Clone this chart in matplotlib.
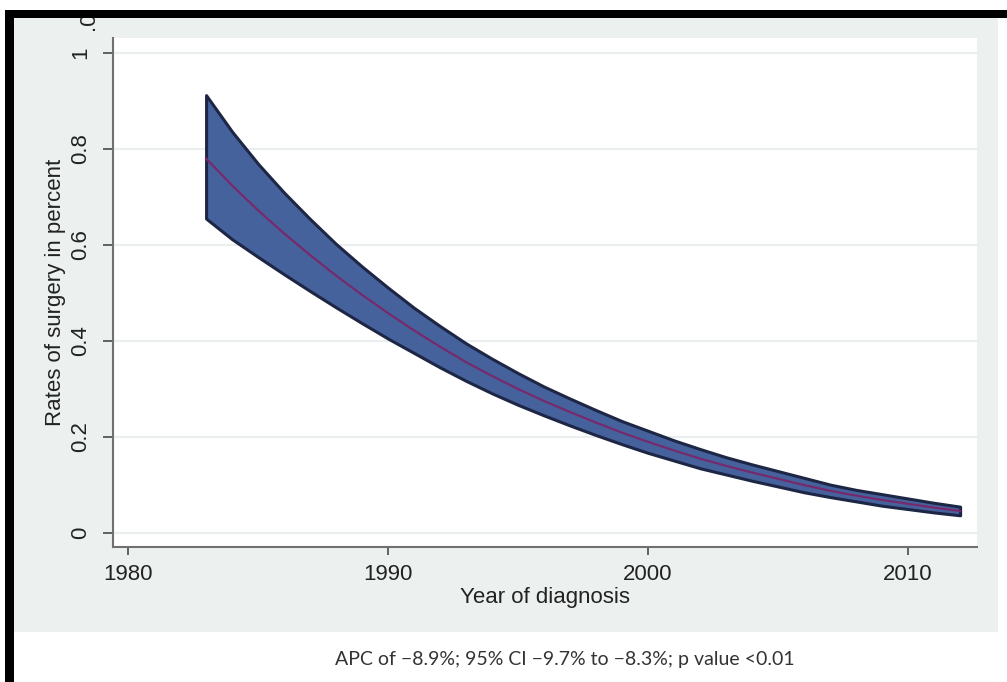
import matplotlib
matplotlib.use("Agg")
import matplotlib.pyplot as plt
from matplotlib.patches import Rectangle

# ---- data ----
years = list(range(1983, 2013))
rate_mid = [0.780, 0.724, 0.672, 0.624, 0.579, 0.536, 0.496, 0.458, 0.422, 0.388,
            0.356, 0.327, 0.300, 0.275, 0.252, 0.230, 0.209, 0.190, 0.172, 0.155,
            0.140, 0.126, 0.113, 0.100, 0.088, 0.078, 0.069, 0.061, 0.053, 0.046]
rate_upper = [0.912, 0.836, 0.769, 0.709, 0.654, 0.602, 0.555, 0.511, 0.469, 0.431,
              0.395, 0.363, 0.333, 0.305, 0.280, 0.256, 0.233, 0.213, 0.193, 0.175,
              0.158, 0.143, 0.129, 0.115, 0.101, 0.090, 0.081, 0.072, 0.063, 0.055]
rate_lower = [0.655, 0.612, 0.575, 0.539, 0.504, 0.470, 0.437, 0.405, 0.375, 0.345,
              0.317, 0.291, 0.267, 0.245, 0.224, 0.204, 0.185, 0.167, 0.151, 0.135,
              0.122, 0.109, 0.097, 0.085, 0.075, 0.066, 0.057, 0.050, 0.043, 0.037]
x_ticks = [1980, 1990, 2000, 2010]
y_ticks = [0, 0.2, 0.4, 0.6, 0.8, 1]
y_tick_labels = ["0", "0.2", "0.4", "0.6", "0.8", "1"]
x_label = "Year of diagnosis"
y_label = "Rates of surgery in percent"
caption = "APC of \u22128.9%; 95% CI \u22129.7% to \u22128.3%; p value <0.01"

W, H = 1007, 682
plt.rcParams['font.family'] = ['Liberation Sans', 'DejaVu Sans']
fig = plt.figure(figsize=(W / 100, H / 100), dpi=100)
fig.patch.set_facecolor('white')

def fx(px):
    return px / W

def fy(py):
    return 1 - py / H

# graph region background
fig.add_artist(Rectangle((fx(14), fy(632)), fx(998 - 14), (632 - 18) / H,
                         transform=fig.transFigure, facecolor='#ecf1f0',
                         edgecolor='none', zorder=-5))

left, right, top, bottom = 113, 977, 38, 547
ax = fig.add_axes([fx(left), fy(bottom), fx(right - left), (bottom - top) / H])
ax.set_facecolor('white')
ax.set_zorder(1)

ax.fill_between(years, rate_lower, rate_upper, facecolor='#46629d',
                edgecolor='#1d2644', linewidth=2.2, zorder=3)
ax.plot(years, rate_mid, color='#762a6c', linewidth=1.6, zorder=4)

ax.set_xlim(1979.42, 2012.65)
ax.set_ylim(-0.029, 1.031)
ax.set_xticks(x_ticks)
ax.set_yticks(y_ticks)
ax.set_yticklabels(y_tick_labels, rotation=90, va='center')
for y in y_ticks:
    ax.axhline(y, color='#e9eeee', linewidth=1.5, zorder=1)

for s in ['top', 'right']:
    ax.spines[s].set_visible(False)
for s in ['left', 'bottom']:
    ax.spines[s].set_color('#707070')
    ax.spines[s].set_linewidth(1.5)

ax.tick_params(axis='y', direction='out', length=7, width=1.3, color='#555555',
               labelsize=16, labelcolor='#222222', pad=9)
ax.tick_params(axis='x', direction='out', length=6, width=1.3, color='#555555',
               labelsize=16, labelcolor='#222222', pad=6)

ax.set_xlabel(x_label, fontsize=16, color='#222222', labelpad=2)
ax.set_ylabel(y_label, fontsize=16, color='#222222', labelpad=3)

fig.text(fx(565), fy(659), caption, ha='center', va='center', fontsize=14,
         color='#333333', family=['Lato', 'DejaVu Sans'])

# partial label at top, partly hidden by the frame
fig.text(fx(88), fy(30), ".0", rotation=90, ha='center', va='bottom',
         fontsize=16, color='#222222', zorder=5)

# black frame bars
fig.add_artist(Rectangle((fx(5), 0), fx(9), (H - 10) / H,
                         transform=fig.transFigure, facecolor='black',
                         edgecolor='none', zorder=10))
fig.add_artist(Rectangle((fx(5), fy(18)), 1, 8 / H,
                         transform=fig.transFigure, facecolor='black',
                         edgecolor='none', zorder=10))

fig.savefig("out.png", dpi=100)
